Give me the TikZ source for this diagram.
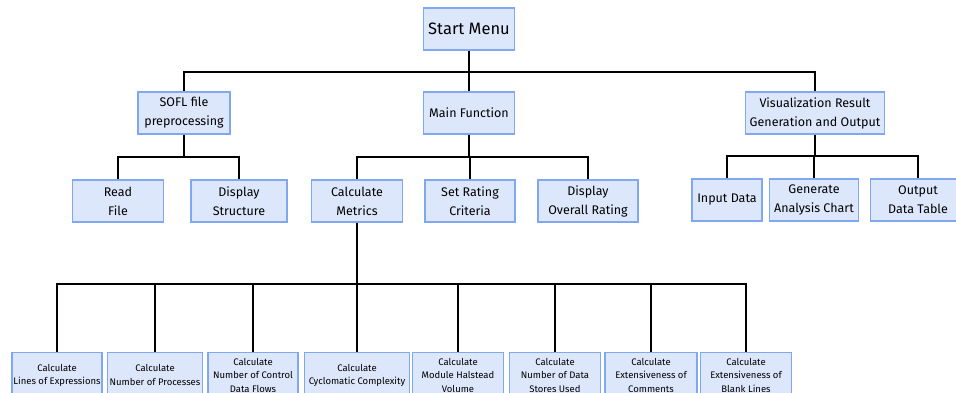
\documentclass[tikz,border=0pt]{standalone}
\usepackage{fontspec}
\setmainfont{Fira Sans}
\usepackage{tikz}
\definecolor{boxfill}{RGB}{221,231,252}
\definecolor{boxline}{RGB}{128,168,240}
\tikzset{
  box/.style={draw=boxline, fill=boxfill, line width=1.4pt, align=center,
    inner sep=1pt, minimum height=42pt, font=\fontsize{12.5}{19}\selectfont},
  small/.style={box, minimum height=45pt,
    font=\fontsize{9.5}{13.5}\selectfont},
  link/.style={black, line width=1.3pt}
}
\begin{document}
\begin{tikzpicture}[x=1pt, y=-1pt]
    \useasboundingbox (0,0) rectangle (956,393);
    % level 0
    \node[box, minimum width=91pt, font=\fontsize{16.5}{19}\selectfont] (start) at (469,29) {Start Menu};
    % level 1
    \node[box, minimum width=92pt] (sofl) at (184,113) {SOFL file\\preprocessing};
    \node[box, minimum width=91pt] (mainf) at (469,113) {Main Function};
    \node[box, minimum width=139pt] (vis) at (815,113) {Visualization Result\\Generation and Output};
    % level 2
    \node[box, minimum width=91pt] (readf) at (118,201) {Read\\File};
    \node[box, minimum width=96pt] (dispst) at (239,201) {Display\\Structure};
    \node[box, minimum width=91pt] (calc) at (357,201) {Calculate\\Metrics};
    \node[box, minimum width=90pt] (rating) at (470,201) {Set Rating\\Criteria};
    \node[box, minimum width=100pt] (overall) at (588,201) {Display\\Overall Rating};
    \node[box, minimum width=70pt] (input) at (727,200) {Input Data};
    \node[box, minimum width=89pt] (chart) at (814,200) {Generate\\Analysis Chart};
    \node[box, minimum width=95pt] (table) at (918,200) {Output\\Data Table};
    % level 3
    \node[small, minimum width=90pt, anchor=north] (m1) at (57,352) {Calculate\\Lines of Expressions};
    \node[small, minimum width=95pt, anchor=north] (m2) at (155,352) {Calculate\\Number of Processes};
    \node[small, minimum width=90pt, anchor=north] (m3) at (253,352) {Calculate\\Number of Control\\Data Flows};
    \node[small, minimum width=105pt, anchor=north] (m4) at (357,352) {Calculate\\Cyclomatic Complexity};
    \node[small, minimum width=91pt, anchor=north] (m5) at (458,352) {Calculate\\Module Halstead\\Volume};
    \node[small, minimum width=91pt, anchor=north] (m6) at (555,352) {Calculate\\Number of Data\\Stores Used};
    \node[small, minimum width=92pt, anchor=north] (m7) at (651,352) {Calculate\\Extensiveness of\\Comments};
    \node[small, minimum width=91pt, anchor=north] (m8) at (746,352) {Calculate\\Extensiveness of\\Blank Lines};
    % connectors
    \coordinate (bar0) at (469,72);
    \coordinate (bar1) at (184,157);
    \coordinate (bar2) at (469,157);
    \coordinate (bar3) at (815,156);
    \coordinate (bar4) at (357,284);
    \draw[link] (start) -- (bar0);
    \foreach \n in {sofl, mainf, vis} \draw[link] (bar0) -| (\n.north);
    \draw[link] (sofl) -- (bar1);
    \foreach \n in {readf, dispst} \draw[link] (bar1) -| (\n.north);
    \draw[link] (mainf) -- (bar2);
    \foreach \n in {calc, rating, overall} \draw[link] (bar2) -| (\n.north);
    \draw[link] (vis) -- (bar3);
    \foreach \n in {input, chart, table} \draw[link] (bar3) -| (\n.north);
    \draw[link] (calc) -- (bar4);
    \foreach \n in {m1, m2, m3, m4, m5, m6, m7, m8} \draw[link] (bar4) -| (\n.north);
\end{tikzpicture}
\end{document}
